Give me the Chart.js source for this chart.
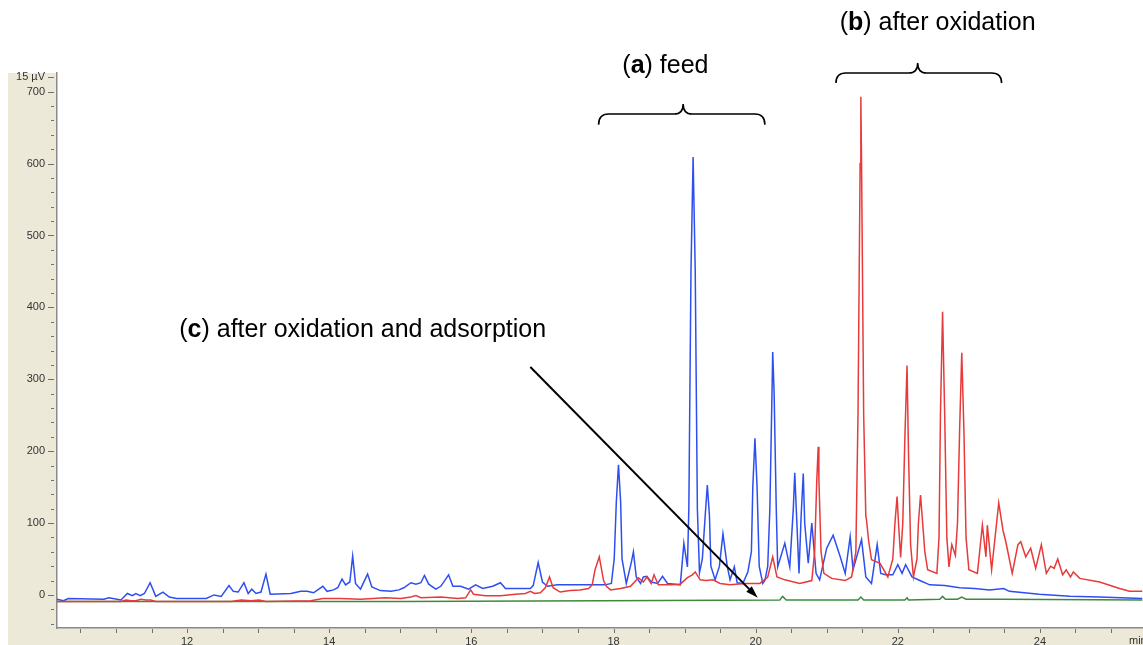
<!DOCTYPE html>
<html>
<head>
<meta charset="utf-8">
<script src="https://cdn.jsdelivr.net/npm/chart.js@4.4.1/dist/chart.umd.min.js"></script>
<style>
    html, body { margin: 0; padding: 0; background: #fff; }
    #wrap { width: 1143px; height: 645px; position: relative; }
</style>
</head>
<body>
<div id="wrap"><canvas id="chromChart"></canvas></div>
<script>
// retention time (min) / detector signal (uV)

// (a) feed - blue trace
const feedTime = [10.17, 10.26, 10.33, 10.83, 10.90, 11.07, 11.16, 11.23, 11.28, 11.34, 11.40, 11.48, 11.56, 11.66, 11.75, 11.85,
    12.27, 12.38, 12.48, 12.59, 12.65, 12.72, 12.80, 12.86, 12.91, 12.97, 13.04, 13.11, 13.17, 13.46, 13.60, 13.69, 13.78, 13.91,
    13.97, 14.06, 14.12, 14.18, 14.23, 14.29, 14.33, 14.37, 14.44, 14.54, 14.60, 14.72, 14.87, 14.98, 15.05, 15.15, 15.22, 15.29,
    15.34, 15.40, 15.50, 15.57, 15.68, 15.74, 15.85, 15.96, 16.06, 16.16, 16.30, 16.41, 16.48, 16.62, 16.83, 16.87, 16.94, 17.00,
    17.07, 17.21, 17.39, 17.67, 17.88, 17.97, 18.01, 18.04, 18.07, 18.10, 18.12, 18.18, 18.25, 18.28, 18.32, 18.38, 18.42, 18.47,
    18.53, 18.62, 18.69, 18.76, 18.94, 18.99, 19.04, 19.06, 19.09, 19.12, 19.15, 19.18, 19.21, 19.25, 19.29, 19.32, 19.35, 19.37,
    19.43, 19.49, 19.54, 19.60, 19.64, 19.70, 19.74, 19.82, 19.89, 19.94, 19.96, 19.99, 20.02, 20.05, 20.10, 20.13, 20.17, 20.20,
    20.23, 20.24, 20.26, 20.29, 20.31, 20.41, 20.48, 20.53, 20.55, 20.58, 20.61, 20.64, 20.67, 20.69, 20.74, 20.79, 20.85, 20.90,
    21.00, 21.09, 21.19, 21.26, 21.33, 21.37, 21.49, 21.55, 21.63, 21.71, 21.76, 21.83, 21.93, 22.00, 22.06, 22.11, 22.20, 22.31,
    22.45, 22.66, 22.87, 23.08, 23.29, 23.49, 23.57, 23.78, 23.99, 24.42, 24.84, 25.44];
const feedSignal = [-6, -8, -5, -6, -4, -7, 2, -1, 2, -1, 2, 17, -2, 4, -3, -5,
    -5, 0, -2, 13, 5, 4, 17, 2, 8, 2, 4, 29, 1, 2, 5, 5, 3, 12,
    5, 7, 10, 22, 14, 18, 54, 16, 8, 29, 11, 6, 5, 7, 10, 17, 15, 17,
    27, 15, 8, 12, 28, 12, 12, 8, 14, 9, 12, 17, 9, 9, 9, 13, 45, 18,
    12, 14, 14, 14, 14, 16, 50, 130, 181, 130, 50, 16, 45, 60, 25, 16, 25, 26,
    18, 16, 26, 16, 14, 72, 39, 120, 450, 609, 450, 120, 31, 50, 110, 153, 110, 40,
    21, 40, 85, 40, 21, 39, 17, 16, 32, 60, 150, 218, 150, 40, 16, 20, 40, 120,
    280, 338, 280, 120, 39, 72, 39, 120, 170, 100, 30, 110, 169, 100, 44, 100, 30, 21,
    65, 83, 53, 30, 81, 35, 77, 25, 16, 70, 30, 28, 28, 42, 30, 42, 25, 20,
    14, 13, 10, 9, 7, 9, 5, 3, 1, -2, -3, -5];

// (b) after oxidation - red trace
const oxidTime = [10.17, 11.07, 11.14, 11.21, 11.28, 11.35, 11.42, 11.49, 11.56, 12.62, 12.76, 12.90, 13.01, 13.11, 13.74, 13.91,
    14.16, 14.44, 14.79, 15.01, 15.15, 15.22, 15.29, 15.57, 15.81, 15.92, 15.99, 16.03, 16.20, 16.41, 16.62, 16.76, 16.83, 16.89,
    16.97, 17.04, 17.10, 17.15, 17.25, 17.39, 17.53, 17.65, 17.70, 17.74, 17.80, 17.86, 17.90, 17.96, 18.10, 18.24, 18.35, 18.42,
    18.47, 18.53, 18.57, 18.63, 18.80, 18.94, 19.04, 19.11, 19.15, 19.22, 19.30, 19.40, 19.50, 19.64, 19.85, 20.06, 20.17, 20.24,
    20.30, 20.41, 20.62, 20.79, 20.83, 20.86, 20.88, 20.89, 20.92, 20.96, 21.07, 21.26, 21.35, 21.41, 21.44, 21.47, 21.48, 21.49,
    21.52, 21.55, 21.56, 21.59, 21.63, 21.75, 21.86, 21.93, 21.96, 21.99, 22.01, 22.04, 22.07, 22.10, 22.13, 22.15, 22.18, 22.22,
    22.27, 22.29, 22.32, 22.35, 22.38, 22.42, 22.55, 22.58, 22.60, 22.63, 22.66, 22.69, 22.72, 22.76, 22.81, 22.84, 22.87, 22.90,
    22.93, 22.96, 23.00, 23.12, 23.19, 23.24, 23.26, 23.32, 23.42, 23.48, 23.52, 23.61, 23.69, 23.73, 23.80, 23.87, 23.94, 24.02,
    24.09, 24.15, 24.20, 24.25, 24.32, 24.37, 24.43, 24.47, 24.56, 24.84, 25.12, 25.26, 25.44];
const oxidSignal = [-9, -9, -7, -8, -8, -6, -7, -7, -9, -9, -7, -8, -7, -9, -8, -5,
    -5, -6, -4, -5, -3, -1, -4, -3, -5, -4, 7, 1, -1, -1, 1, 2, 5, 2,
    3, 10, 25, 10, 4, 6, 7, 9, 14, 35, 53, 20, 12, 7, 9, 12, 24, 18,
    25, 16, 28, 14, 14, 15, 24, 28, 32, 21, 20, 21, 16, 14, 16, 16, 25, 53,
    25, 21, 16, 20, 60, 160, 206, 160, 60, 30, 23, 20, 25, 60, 250, 600, 693, 600,
    250, 110, 104, 75, 49, 44, 25, 50, 100, 137, 100, 52, 100, 220, 319, 200, 70, 25,
    50, 100, 139, 100, 60, 35, 30, 80, 250, 394, 250, 80, 39, 70, 55, 100, 230, 337,
    230, 80, 35, 30, 97, 53, 97, 35, 128, 90, 74, 30, 70, 74, 53, 65, 37, 70,
    30, 40, 37, 50, 28, 35, 25, 32, 23, 18, 9, 5, 5];

// (c) after oxidation and adsorption - green trace
const adsTime = [10.17, 15.01, 17.81, 20.34, 20.38, 20.43, 21.44, 21.48, 21.52, 22.10, 22.13, 22.15, 22.59, 22.63, 22.67,
    22.84, 22.90, 22.96, 23.43, 25.44];
const adsSignal = [-9, -9, -8, -7, -2, -7, -7, -3, -7, -7, -4, -7, -6, -2, -6, -6, -3, -6, -6, -7];

const timeRange = [10.17, 25.45];
const signalRange = [-46, 726];

// callouts, in data units
const notes = [
    { t: 18.73, v: 736, key: 'a', rest: ') feed', align: 'center' },
    { t: 22.56, v: 795, key: 'b', rest: ') after oxidation', align: 'center' },
    { t: 11.89, v: 369, key: 'c', rest: ') after oxidation and adsorption', align: 'left' }
];
const braces = [
    { from: 17.79, to: 20.13, mid: 18.98, line: 669, end: 654, tip: 683 },
    { from: 21.13, to: 23.46, mid: 22.28, line: 726, end: 712, tip: 740 }
];
const arrowFrom = [16.83, 317];
const arrowTo = [20.03, -4];

function toPoints(xs, ys) {
    return xs.map((x, i) => ({ x: x, y: ys[i] }));
}

const panelPlugin = {
    id: 'panel',
    beforeDraw(chart) {
        const { ctx, chartArea } = chart;
        ctx.save();
        ctx.fillStyle = '#ece9d8';
        ctx.fillRect(8, chartArea.top, chartArea.left - 8, chart.height - chartArea.top);
        ctx.fillRect(8, chartArea.bottom, chart.width - 8, chart.height - chartArea.bottom);
        ctx.restore();
    },
    afterDraw(chart) {
        const { ctx, chartArea, scales: { x, y } } = chart;
        ctx.save();
        ctx.strokeStyle = '#707070';
        ctx.lineWidth = 1;
        y.ticks.forEach(tk => {
            const py = Math.round(y.getPixelForValue(tk.value)) + 0.5;
            const major = tk.value % 100 === 0 || tk.value === 720;
            ctx.beginPath();
            ctx.moveTo(chartArea.left - (major ? 9 : 6), py);
            ctx.lineTo(chartArea.left - 3, py);
            ctx.stroke();
        });
        x.ticks.forEach(tk => {
            const px = Math.round(x.getPixelForValue(tk.value)) + 0.5;
            ctx.beginPath();
            ctx.moveTo(px, chartArea.bottom + 1);
            ctx.lineTo(px, chartArea.bottom + 5);
            ctx.stroke();
        });
        ctx.fillStyle = '#333';
        ctx.font = "11px 'Liberation Sans'";
        ctx.textBaseline = 'top';
        ctx.fillText('min', chartArea.right - 14, chartArea.bottom + 7);
        ctx.restore();
    }
};

const calloutPlugin = {
    id: 'callouts',
    afterDraw(chart) {
        const { ctx, scales: { x, y } } = chart;
        ctx.save();
        ctx.fillStyle = '#000';
        ctx.strokeStyle = '#000';
        ctx.textBaseline = 'middle';
        const normal = "25px 'Liberation Sans'";
        const bold = "bold 25px 'Liberation Sans'";
        notes.forEach(n => {
            ctx.font = normal;
            const w1 = ctx.measureText('(').width;
            const w3 = ctx.measureText(n.rest).width;
            ctx.font = bold;
            const w2 = ctx.measureText(n.key).width;
            const total = w1 + w2 + w3;
            let px = x.getPixelForValue(n.t);
            if (n.align === 'center') px -= total / 2;
            const py = y.getPixelForValue(n.v);
            ctx.textAlign = 'left';
            ctx.font = normal;
            ctx.fillText('(', px, py);
            ctx.font = bold;
            ctx.fillText(n.key, px + w1, py);
            ctx.font = normal;
            ctx.fillText(n.rest, px + w1 + w2, py);
        });

        ctx.lineWidth = 1.6;
        braces.forEach(b => {
            const x1 = x.getPixelForValue(b.from);
            const x2 = x.getPixelForValue(b.to);
            const xm = x.getPixelForValue(b.mid);
            const yl = y.getPixelForValue(b.line);
            const ye = y.getPixelForValue(b.end);
            const yt = y.getPixelForValue(b.tip);
            ctx.beginPath();
            ctx.moveTo(x1, ye);
            ctx.quadraticCurveTo(x1, yl, x1 + 10, yl);
            ctx.lineTo(xm - 9, yl);
            ctx.quadraticCurveTo(xm, yl, xm, yt);
            ctx.quadraticCurveTo(xm, yl, xm + 9, yl);
            ctx.lineTo(x2 - 10, yl);
            ctx.quadraticCurveTo(x2, yl, x2, ye);
            ctx.stroke();
        });

        const ax = x.getPixelForValue(arrowFrom[0]);
        const ay = y.getPixelForValue(arrowFrom[1]);
        const bx = x.getPixelForValue(arrowTo[0]);
        const by = y.getPixelForValue(arrowTo[1]);
        const ang = Math.atan2(by - ay, bx - ax);
        const head = 13;
        ctx.lineWidth = 2;
        ctx.beginPath();
        ctx.moveTo(ax, ay);
        ctx.lineTo(bx - Math.cos(ang) * head * 0.8, by - Math.sin(ang) * head * 0.8);
        ctx.stroke();
        ctx.beginPath();
        ctx.moveTo(bx, by);
        ctx.lineTo(bx - head * Math.cos(ang - 0.3), by - head * Math.sin(ang - 0.3));
        ctx.lineTo(bx - head * Math.cos(ang + 0.3), by - head * Math.sin(ang + 0.3));
        ctx.closePath();
        ctx.fill();
        ctx.restore();
    }
};

Chart.defaults.font.family = "'Liberation Sans', Arial, sans-serif";
Chart.defaults.color = '#333';

const chromCtx = document.getElementById('chromChart').getContext('2d');
new Chart(chromCtx, {
    type: 'line',
    data: {
        datasets: [
            { label: 'after oxidation', data: toPoints(oxidTime, oxidSignal), borderColor: '#e83a3a', borderWidth: 1.5 },
            { label: 'feed', data: toPoints(feedTime, feedSignal), borderColor: '#2d4ff0', borderWidth: 1.5 },
            { label: 'after oxidation and adsorption', data: toPoints(adsTime, adsSignal), borderColor: '#3d8a3d', borderWidth: 1.5 }
        ]
    },
    options: {
        responsive: true,
        maintainAspectRatio: false,
        animation: false,
        layout: { padding: { top: 73, left: 0, right: 0, bottom: 0 } },
        elements: { point: { radius: 0 }, line: { tension: 0 } },
        scales: {
            x: {
                type: 'linear',
                min: timeRange[0],
                max: timeRange[1],
                grid: { display: false, drawTicks: true, tickLength: 4 },
                border: { display: true, color: '#8a8a8a', width: 1.5 },
                ticks: {
                    stepSize: 0.5,
                    includeBounds: false,
                    autoSkip: false,
                    maxRotation: 0,
                    padding: 3,
                    font: { size: 11 },
                    callback: function (value) {
                        return Math.abs(value / 2 - Math.round(value / 2)) < 1e-6 ? String(Math.round(value)) : '';
                    }
                },
                afterFit: function (scale) { scale.height = 17; }
            },
            y: {
                min: signalRange[0],
                max: signalRange[1],
                grid: { display: false, drawTicks: true, tickLength: 8 },
                border: { display: true, color: '#8a8a8a', width: 1.5 },
                ticks: {
                    stepSize: 20,
                    includeBounds: false,
                    autoSkip: false,
                    padding: 4,
                    font: { size: 11 },
                    callback: function (value) {
                        if (value === 720) return '15 µV';
                        return value % 100 === 0 ? String(value) : '';
                    }
                },
                afterFit: function (scale) { scale.width = 57; }
            }
        },
        plugins: { legend: { display: false }, tooltip: { enabled: false } }
    },
    plugins: [panelPlugin, calloutPlugin]
});
</script>
</body>
</html>
